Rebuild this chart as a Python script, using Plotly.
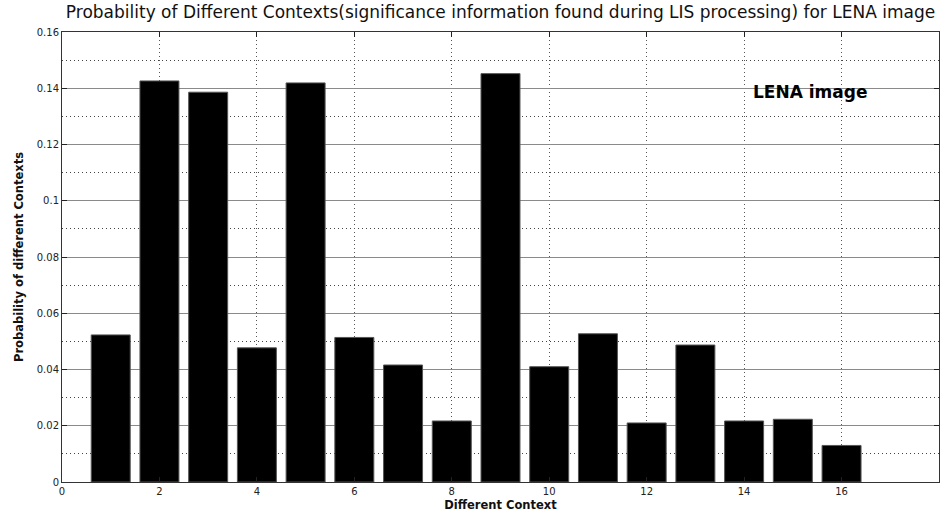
import plotly.graph_objects as go

# Context indices and their measured probabilities
contexts = list(range(1, 17))
probabilities = [0.0523, 0.1426, 0.1386, 0.0477, 0.1419, 0.0514, 0.0416, 0.0217,
                 0.1452, 0.0410, 0.0527, 0.0210, 0.0487, 0.0217, 0.0223, 0.0130]

x_ticks = list(range(0, 19, 2))
y_ticks = [round(0.02 * i, 2) for i in range(9)]

title_text = ("Probability of Different Contexts(significance information found "
              "during LIS processing) for LENA image")

FONT = "DejaVu Sans"
DOTS = "1px,3px"

fig = go.Figure()
fig.add_trace(go.Bar(
    x=contexts,
    y=probabilities,
    width=0.8,
    marker=dict(color="black", line=dict(color="#555555", width=1)),
    showlegend=False,
))

fig.update_layout(
    width=944,
    height=515,
    margin=dict(l=62, r=5, t=32, b=33),
    paper_bgcolor="white",
    plot_bgcolor="white",
    font=dict(family=FONT, size=10, color="#222222"),
    title=dict(
        text=title_text,
        x=0.5, xanchor="center", xref="paper",
        y=1 - 12 / 515, yanchor="middle", yref="container",
        font=dict(family=FONT, size=17, color="#111111"),
    ),
    bargap=0.2,
)

fig.update_xaxes(
    range=[0, 18],
    tickvals=x_ticks,
    ticks="inside", ticklen=5, tickcolor="#222222",
    showline=True, linecolor="#333333", linewidth=1, mirror="ticks",
    showgrid=True, gridcolor="#555555", griddash=DOTS, gridwidth=1,
    zeroline=False,
    tickfont=dict(family=FONT, size=10, color="#222222"),
    title=dict(text="<b>Different Context</b>", standoff=4,
               font=dict(family=FONT, size=11.5, color="#111111")),
)

fig.update_yaxes(
    range=[0, 0.16],
    tickvals=y_ticks,
    ticktext=["0" if v == 0 else f"{v:g}" for v in y_ticks],
    ticks="inside", ticklen=5, tickcolor="#222222",
    showline=True, linecolor="#333333", linewidth=1, mirror="ticks",
    showgrid=True, gridcolor="#8a8a8a", gridwidth=1,
    zeroline=False,
    minor=dict(dtick=0.01, tick0=0, showgrid=True, gridcolor="#444444",
               griddash=DOTS, gridwidth=1),
    tickfont=dict(family=FONT, size=10, color="#222222"),
    title=dict(text="<b>Probability of different Contexts</b>", standoff=10,
               font=dict(family=FONT, size=11.5, color="#111111")),
)

fig.add_annotation(
    x=14.15, y=0.1386, xref="x", yref="y",
    xanchor="left", yanchor="middle",
    text="<b>LENA image</b>", showarrow=False,
    font=dict(family=FONT, size=17, color="black"),
)

fig.write_html("out.html")
